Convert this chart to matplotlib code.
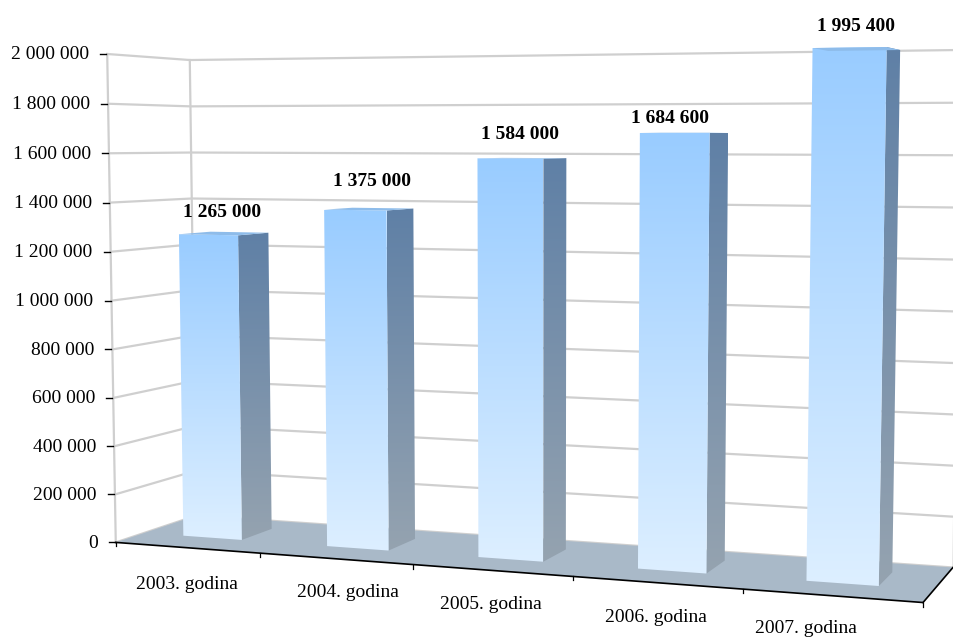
import numpy as np
import matplotlib
matplotlib.use("Agg")
import matplotlib.pyplot as plt
from matplotlib.patches import Polygon

plt.rcParams['font.family'] = ['Liberation Serif', 'DejaVu Serif']

# data
categories = ["2003. godina", "2004. godina", "2005. godina", "2006. godina", "2007. godina"]
values = [1265000, 1375000, 1584000, 1684600, 1995400]
value_labels = ["1 265 000", "1 375 000", "1 584 000", "1 684 600", "1 995 400"]
y_ticks = [0, 200000, 400000, 600000, 800000, 1000000, 1200000, 1400000, 1600000, 1800000, 2000000]
y_tick_labels = ["0", "200 000", "400 000", "600 000", "800 000", "1 000 000",
                 "1 200 000", "1 400 000", "1 600 000", "1 800 000", "2 000 000"]
y_max = 2000000

# text offsets from the projected anchors, in pixels
value_label_dx = [14, 17, 10, -5, 7]
value_label_dy = [-22, -29, -24, -14, -21]
cat_label_dx = [0, 13, -1, -1, -26]
cat_label_dy = [37, 34, 34, 35, 33]

# box corners -> pixels, used to fit the perspective of the 3d chart
# the right wall runs off the picture
corner_box = [(0, 0, 0), (0, 0, 1), (0, 1, 0), (0, 1, 1), (5, 0, 0), (5, 1, 0), (5, 1, 1)]
corner_px = [(116, 542), (107, 54), (196, 516), (190, 60), (923, 603), (953, 567), (962, 50)]


def fit_projection(box, px):
    rows, rhs = [], []
    for (a, b, c), (x, y) in zip(box, px):
        rows.append([a, b, c, 1, 0, 0, 0, 0, -x * a, -x * b, -x * c])
        rows.append([0, 0, 0, 0, a, b, c, 1, -y * a, -y * b, -y * c])
        rhs += [x, y]
    sol = np.linalg.lstsq(np.array(rows, float), np.array(rhs, float), rcond=None)[0]
    return np.append(sol, 1).reshape(3, 4)


P = fit_projection(corner_box, corner_px)


def proj(u, v, val):
    h = P @ np.array([u, v, val / y_max, 1.0])
    return h[0] / h[2], h[1] / h[2]


def gradient_poly(ax, pts, top, bottom, z):
    pts = np.array(pts)
    c0 = np.array(matplotlib.colors.to_rgb(top))
    c1 = np.array(matplotlib.colors.to_rgb(bottom))
    t = np.linspace(0, 1, 256)[:, None, None]
    img = c0[None, None, :] * (1 - t) + c1[None, None, :] * t
    x0, x1 = pts[:, 0].min(), pts[:, 0].max()
    y0, y1 = pts[:, 1].min(), pts[:, 1].max()
    im = ax.imshow(img, extent=(x0, x1, y1, y0), aspect='auto', zorder=z, interpolation='bilinear')
    im.set_clip_path(Polygon(pts, closed=True, transform=ax.transData))


fig = plt.figure(figsize=(9.54, 6.37), dpi=100)
ax = fig.add_axes([0, 0, 1, 1])
ax.axis('off')

grid_col = "#cfcfcf"
n = len(categories)

# gridlines on the two walls
for t in y_ticks:
    a, b, c = proj(0, 0, t), proj(0, 1, t), proj(n, 1, t)
    ax.plot([a[0], b[0], c[0]], [a[1], b[1], c[1]], color=grid_col, lw=1.6, zorder=1)
for u, v in [(0, 0), (0, 1)]:
    a, b = proj(u, v, 0), proj(u, v, y_max)
    ax.plot([a[0], b[0]], [a[1], b[1]], color=grid_col, lw=1.6, zorder=1)
# right wall edge only shows faintly near the floor
a, b = proj(n, 1, 0), proj(n, 1, y_ticks[1])
ax.plot([a[0], b[0]], [a[1], b[1]], color="#e2e2e2", lw=1.2, zorder=1)

# floor
floor = [proj(0, 0, 0), proj(0, 1, 0), proj(n, 1, 0), proj(n, 0, 0)]
ax.add_patch(Polygon(floor, closed=True, fc="#a9b9c8", ec="none", zorder=2))

# bars
u0, u1 = 0.28, 0.693
v0, v1 = 0.34, 0.74
for i, val in enumerate(values):
    z = 3 + i * 0.1
    a0, a1 = i + u0, i + u1
    front = [proj(a0, v0, val), proj(a1, v0, val), proj(a1, v0, 0), proj(a0, v0, 0)]
    side = [proj(a1, v0, val), proj(a1, v1, val), proj(a1, v1, 0), proj(a1, v0, 0)]
    top = [proj(a0, v0, val), proj(a0, v1, val), proj(a1, v1, val), proj(a1, v0, val)]
    gradient_poly(ax, side, "#5f80a6", "#95a3b0", z)
    gradient_poly(ax, front, "#99ccff", "#ddefff", z + 0.01)
    ax.add_patch(Polygon(top, closed=True, fc="#8ebcea", ec="none", zorder=z + 0.02))
    x, y = proj((a0 + a1) / 2, v0, val)
    ax.text(x + value_label_dx[i], y + value_label_dy[i], value_labels[i], fontsize=14, fontweight='bold',
            ha='center', va='center', color='black', zorder=6)

# front edges and ticks
a, b, c = proj(0, 0, 0), proj(n, 0, 0), proj(n, 1, 0)
ax.plot([a[0], b[0]], [a[1], b[1]], color='black', lw=1.2, zorder=5)
ax.plot([b[0], c[0]], [b[1], c[1]], color='black', lw=1.2, zorder=5)
for i in range(n + 1):
    x, y = proj(i, 0, 0)
    ax.plot([x, x], [y, y + 4], color='black', lw=0.9, zorder=5)
for t, lab in zip(y_ticks, y_tick_labels):
    x, y = proj(0, 0, t)
    ax.plot([x - 7, x - 1], [y, y], color='black', lw=1, zorder=5)
    ax.text(x - 18, y + 1, lab, fontsize=14, ha='right', va='center', color='black')
for i, lab in enumerate(categories):
    x, y = proj(i + 0.5, 0, 0)
    ax.text(x + cat_label_dx[i], y + cat_label_dy[i], lab, fontsize=14, ha='center', va='center', color='black')

ax.set_xlim(0, 954)
ax.set_ylim(637, 0)
fig.savefig("out.png", dpi=100)
